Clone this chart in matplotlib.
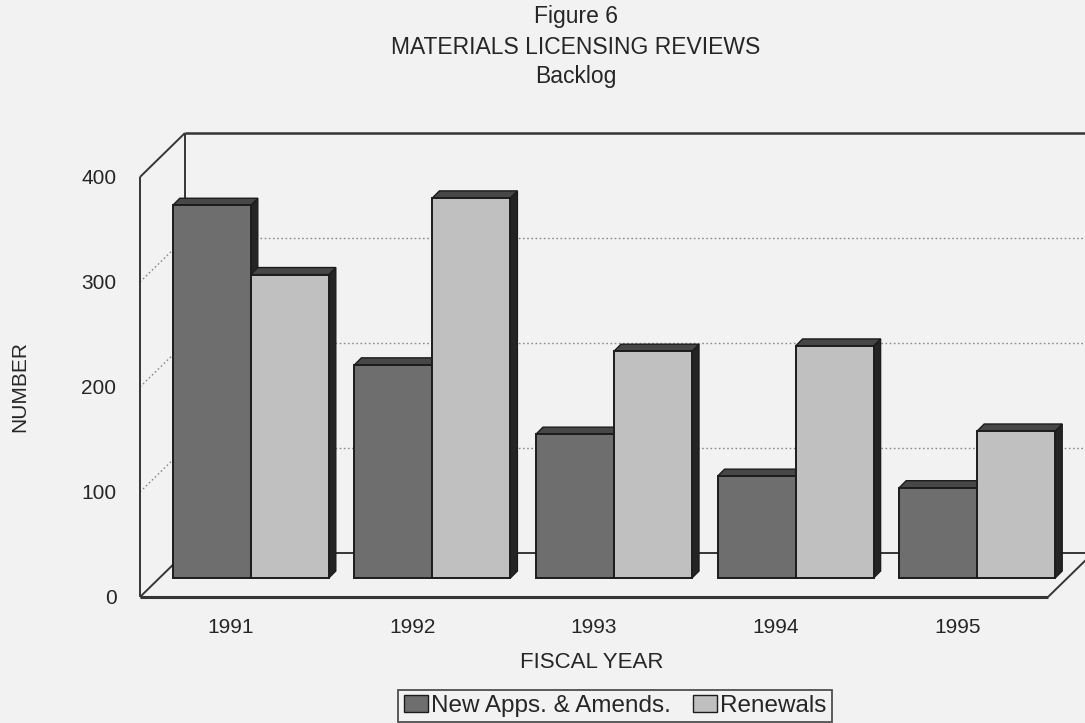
import matplotlib
matplotlib.use("Agg")
import matplotlib.pyplot as plt
from matplotlib.patches import Polygon, Patch

# ---- data -------------------------------------------------------------
years = ["1991", "1992", "1993", "1994", "1995"]
new_apps = [355, 203, 137, 97, 86]
renewals = [289, 362, 216, 221, 140]
y_ticks = [0, 100, 200, 300, 400]
series_names = ["New Apps. & Amends.", "Renewals"]

# ---- styling ----------------------------------------------------------
BG = "#f2f2f2"
DARK = "#6e6e6e"
LIGHT = "#c0c0c0"
TOP = "#474747"
SIDE = "#242424"
EDGE = "#1c1c1c"
FRAME = "#353535"
GRID = "#8a8a8a"
TXT = "#262626"
FONT = "Liberation Sans"

plt.rcParams["font.family"] = [FONT, "DejaVu Sans"]

W_PX, H_PX = 1085, 723
fig = plt.figure(figsize=(W_PX / 100, H_PX / 100), dpi=100, facecolor=BG)

# front plane of the pseudo-3D box (pixel extents)
left_px, right_px, bottom_px, top_px = 140, 1048, 597, 177
ax = fig.add_axes([left_px / W_PX, 1 - bottom_px / H_PX,
                   (right_px - left_px) / W_PX, (bottom_px - top_px) / H_PX])
ax.set_xlim(-0.5, len(years) - 0.5)
ax.set_ylim(0, 400)
ax.set_facecolor("none")
for s in ax.spines.values():
    s.set_visible(False)

# pixel -> data unit conversions
ux = (len(years)) / (right_px - left_px)
uy = 400 / (bottom_px - top_px)

BX, BY = 45 * ux, 44 * uy      # depth of the box
MX, MY = 20 * ux, 19 * uy      # plane where bars stand
DX, DY = 7 * ux, 7 * uy        # thickness of each bar
bar_w = 78 / (right_px - left_px) * len(years)

x0, x1 = -0.5, len(years) - 0.5
far = x1 + BX + 1.0

def line(xs, ys, **kw):
    kw.setdefault("color", FRAME)
    kw.setdefault("lw", 1.4)
    ax.plot(xs, ys, clip_on=False, solid_capstyle="butt", **kw)

# gridlines on the back wall and the left wall
for v in y_ticks[1:-1]:
    line([x0 + BX, far], [v + BY, v + BY], color=GRID, lw=1.0,
         ls=(0, (1.2, 1.8)), zorder=1)
    line([x0, x0 + BX], [v, v + BY], color=GRID, lw=1.0,
         ls=(0, (1.2, 1.8)), zorder=1)

# box outline
line([x0 + BX, far], [400 + BY, 400 + BY], lw=1.8, zorder=1)           # back top
line([x0 + BX, x0 + BX], [BY, 400 + BY], zorder=1)                    # back left
line([x0, x0], [0, 400], zorder=1)                                    # front left
line([x0, x0 + BX], [400, 400 + BY], zorder=1)                        # left wall top
line([x0, x0 + BX], [0, BY], zorder=1)                                # floor left
line([x0 + BX, far], [BY, BY], zorder=1)                              # floor back
line([x1, x1 + BX], [0, BY], zorder=1)                                # floor right
line([x0, x1], [0, 0], lw=2.2, zorder=1)                              # floor front

# bars
for i in range(len(years)):
    for j, (vals, col) in enumerate(((new_apps, DARK), (renewals, LIGHT))):
        v = vals[i]
        left = i - bar_w + j * bar_w + MX
        right = left + bar_w
        z = 3 + i * 2 + j
        ax.bar(left, v, width=bar_w, bottom=MY, align="edge", color=col,
               edgecolor=EDGE, lw=1.4, zorder=z + 0.2, clip_on=False)
        top = MY + v
        ax.add_patch(Polygon([(left, top), (right, top),
                              (right + DX, top + DY), (left + DX, top + DY)],
                             closed=True, facecolor=TOP, edgecolor=EDGE,
                             lw=1.0, zorder=z + 0.1, clip_on=False))
        ax.add_patch(Polygon([(right, MY), (right, top),
                              (right + DX, top + DY), (right + DX, MY + DY)],
                             closed=True, facecolor=SIDE, edgecolor=EDGE,
                             lw=1.0, zorder=z, clip_on=False))

# axes labels / ticks
ax.set_xticks(range(len(years)), years)
ax.set_yticks(y_ticks, [str(t) for t in y_ticks])
ax.tick_params(axis="x", length=0, pad=15, labelsize=15, labelcolor=TXT)
ax.tick_params(axis="y", length=0, pad=17, labelsize=15, labelcolor=TXT)

fig.text(20 / W_PX, 1 - 387 / H_PX, "NUMBER", rotation=90, ha="center",
         va="center", fontsize=15, color=TXT)
fig.text(592 / W_PX, 1 - 662 / H_PX, "FISCAL YEAR", ha="center",
         va="center", fontsize=16, color=TXT)

# title block
for txt, yc in (("Figure 6", 17), ("MATERIALS LICENSING REVIEWS", 47),
                ("Backlog", 76)):
    fig.text(576 / W_PX, 1 - yc / H_PX, txt, ha="center", va="center",
             fontsize=16.5, color=TXT)

handles = [Patch(facecolor=DARK, edgecolor=EDGE, lw=1.0),
           Patch(facecolor=LIGHT, edgecolor=EDGE, lw=1.0)]
leg = fig.legend(handles, series_names, loc="center",
                 bbox_to_anchor=(615 / W_PX, 1 - 706 / H_PX), ncol=2,
                 fontsize=17.5, frameon=True, fancybox=False,
                 handlelength=1.0, handleheight=0.65, handletextpad=0.12,
                 columnspacing=0.9, borderpad=0.22, borderaxespad=0)
leg.get_frame().set_edgecolor(TXT)
leg.get_frame().set_facecolor(BG)
leg.get_frame().set_linewidth(1.3)
for t in leg.get_texts():
    t.set_color(TXT)

fig.savefig("out.png", dpi=100, facecolor=BG)
